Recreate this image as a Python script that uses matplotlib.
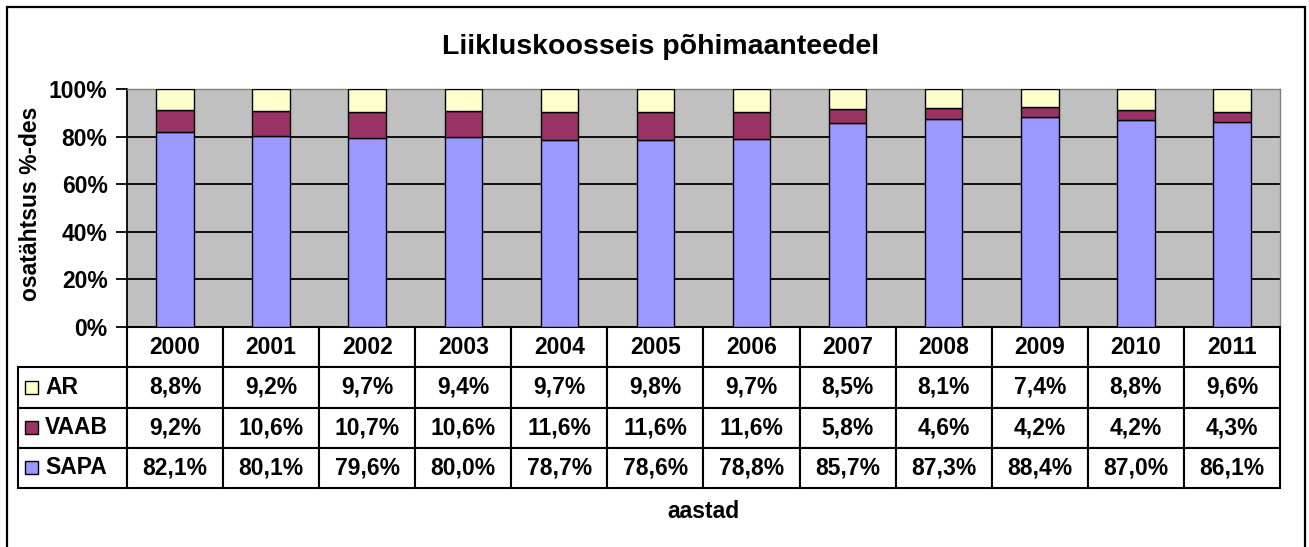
import matplotlib
matplotlib.use('Agg')
import matplotlib.pyplot as plt
from matplotlib.patches import Rectangle

plt.rcParams['font.family'] = ['Liberation Sans', 'DejaVu Sans']
plt.rcParams['font.weight'] = 'bold'

years = ["2000", "2001", "2002", "2003", "2004", "2005",
         "2006", "2007", "2008", "2009", "2010", "2011"]
ar = [8.8, 9.2, 9.7, 9.4, 9.7, 9.8, 9.7, 8.5, 8.1, 7.4, 8.8, 9.6]
vaab = [9.2, 10.6, 10.7, 10.6, 11.6, 11.6, 11.6, 5.8, 4.6, 4.2, 4.2, 4.3]
sapa = [82.1, 80.1, 79.6, 80.0, 78.7, 78.6, 78.8, 85.7, 87.3, 88.4, 87.0, 86.1]
ytick_labels = ["0%", "20%", "40%", "60%", "80%", "100%"]

series_names = ["AR", "VAAB", "SAPA"]
series_colors = {"AR": "#FFFFCC", "VAAB": "#993366", "SAPA": "#9999FF"}

W, H = 1309, 547
fig = plt.figure(figsize=(W / 100, H / 100), dpi=100)

# plot area in pixels
left, right, top, bottom = 127, 1280, 89, 327
ax = fig.add_axes([left / W, (H - bottom) / H, (right - left) / W, (bottom - top) / H])
ax.set_facecolor("#C0C0C0")

x = list(range(len(years)))
bw = 0.39
ax.bar(x, sapa, bw, color=series_colors["SAPA"], edgecolor="black", linewidth=1, zorder=3)
ax.bar(x, vaab, bw, bottom=sapa, color=series_colors["VAAB"], edgecolor="black", linewidth=1, zorder=3)
base2 = [s + v for s, v in zip(sapa, vaab)]
ax.bar(x, ar, bw, bottom=base2, color=series_colors["AR"], edgecolor="black", linewidth=1, zorder=3)

ax.set_xlim(-0.5, len(years) - 0.5)
ax.set_ylim(0, 100)
ax.set_yticks([0, 20, 40, 60, 80, 100])
ax.set_yticklabels(ytick_labels, fontsize=16.5, fontweight="bold")
ax.set_xticks([])
ax.tick_params(axis="y", direction="out", length=8, width=1.3, pad=6)
ax.yaxis.grid(True, color="black", linewidth=1.3, zorder=1)
ax.set_axisbelow(True)
for side in ["left", "bottom"]:
    ax.spines[side].set_color("black")
    ax.spines[side].set_linewidth(1.3)
for side in ["top", "right"]:
    ax.spines[side].set_color("#808080")
    ax.spines[side].set_linewidth(1)

# data table below the plot
def fmt(v):
    return ("%.1f%%" % v).replace(".", ",")

cell_text = [[fmt(v) for v in ar], [fmt(v) for v in vaab], [fmt(v) for v in sapa]]
tab_h = (488 - bottom) / (bottom - top)
table = ax.table(cellText=cell_text, rowLabels=series_names, colLabels=years,
                 cellLoc="center", rowLoc="left", bbox=[0, -tab_h, 1, tab_h])
table.auto_set_font_size(False)
table.set_fontsize(16.5)
table._autoColumns = []
label_w = (left - 18) / (right - left)
for (r, c), cell in table.get_celld().items():
    cell.set_linewidth(1.5)
    cell.set_edgecolor("black")
    cell.get_text().set_fontweight("bold")
    if c == -1:
        cell.set_width(label_w)
        cell.PAD = 0.25
    else:
        cell.set_width(1 / len(years))

# legend keys in the row label cells
row_h = tab_h / 4
sq_w = 13 / (right - left)
sq_h = 13 / (bottom - top)
for i, name in enumerate(series_names):
    yc = -row_h * (i + 1.5)
    ax.add_patch(Rectangle(((25 - left) / (right - left), yc - sq_h / 2), sq_w, sq_h,
                           transform=ax.transAxes, clip_on=False,
                           facecolor=series_colors[name], edgecolor="black", linewidth=1))

fig.text(661 / W, 1 - 47 / H, "Liikluskoosseis põhimaanteedel", ha="center", va="center",
         fontsize=20.5, fontweight="bold")
fig.text(31 / W, 1 - 204 / H, "osatähtsus %-des", ha="center", va="center",
         rotation=90, fontsize=16.5, fontweight="bold")
fig.text(703 / W, 1 - 511 / H, "aastad", ha="center", va="center",
         fontsize=16.5, fontweight="bold")

# outer chart border
fig.patches.append(Rectangle((7 / W, -0.02), (1305 - 7) / W, 1.02 - 7 / H,
                             transform=fig.transFigure, fill=False,
                             edgecolor="black", linewidth=1.6))

fig.savefig("out.png", dpi=100)
